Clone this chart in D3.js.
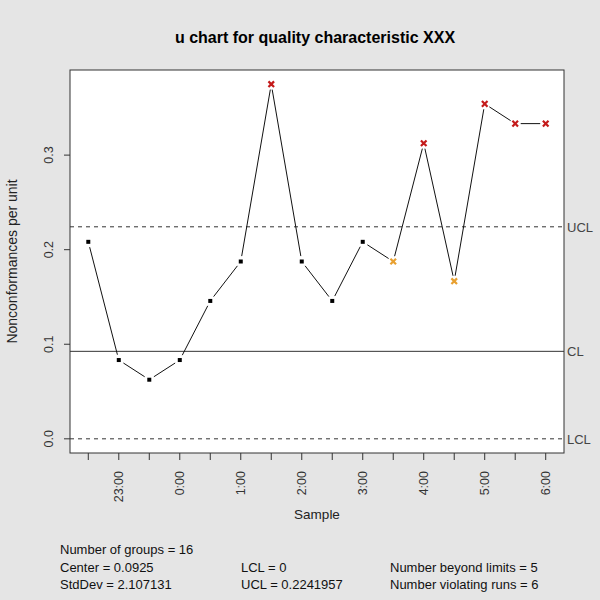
<!DOCTYPE html>
<html>
<head>
<meta charset="utf-8">
<script src="https://cdn.jsdelivr.net/npm/d3@7"></script>
<style>
  body { margin: 0; background: #e5e5e5; }
  svg { display: block; font-family: "Liberation Sans", Arial, sans-serif; }
</style>
</head>
<body>
<div id="chart"></div>
<script>
// sample times (one per group) and u values
const samples = ["22:30", "23:00", "23:30", "0:00", "0:30", "1:00", "1:30", "2:00",
                 "2:30", "3:00", "3:30", "4:00", "4:30", "5:00", "5:30", "6:00"];
const uValues = [0.2083, 0.0833, 0.0625, 0.0833, 0.1458, 0.1875, 0.375, 0.1875,
                 0.1458, 0.2083, 0.1875, 0.3125, 0.1667, 0.3542, 0.3333, 0.3333];
// 0 = in control, 1 = violating runs, 2 = beyond limits
const status = [0, 0, 0, 0, 0, 0, 2, 0, 0, 0, 1, 2, 1, 2, 2, 2];
const shownLabels = ["23:00", "0:00", "1:00", "2:00", "3:00", "4:00", "5:00", "6:00"];
const yTicks = [0.0, 0.1, 0.2, 0.3];

const center = 0.0925, lcl = 0, ucl = 0.2241957;
const statsLeft = ["Number of groups = 16", "Center = 0.0925", "StdDev = 2.107131"];
const statsMid = ["", "LCL = 0", "UCL = 0.2241957"];
const statsRight = ["", "Number beyond limits = 5", "Number violating runs = 6"];

const W = 600, H = 600;
const box = {left: 70, right: 564, top: 70, bottom: 453};

const svg = d3.select("#chart").append("svg")
    .attr("width", W).attr("height", H);

svg.append("rect").attr("width", W).attr("height", H).attr("fill", "#e5e5e5");
svg.append("rect")
    .attr("x", box.left).attr("y", box.top)
    .attr("width", box.right - box.left).attr("height", box.bottom - box.top)
    .attr("fill", "#ffffff");

const x = d3.scaleLinear().domain([0.4, 16.6]).range([box.left, box.right]);
const y = d3.scaleLinear().domain([-0.015, 0.39]).range([box.bottom, box.top]);

// title
svg.append("text")
    .attr("x", 315).attr("y", 43)
    .attr("text-anchor", "middle")
    .attr("font-size", 16).attr("font-weight", "bold")
    .attr("fill", "#000")
    .text("u chart for quality characteristic XXX");

// control lines
const limits = [
  {v: ucl, name: "UCL", dash: "4,4"},
  {v: center, name: "CL", dash: null},
  {v: lcl, name: "LCL", dash: "4,4"}
];
limits.forEach(l => {
  svg.append("line")
      .attr("x1", box.left).attr("x2", box.right)
      .attr("y1", y(l.v)).attr("y2", y(l.v))
      .attr("stroke", "#333").attr("stroke-width", 1)
      .attr("stroke-dasharray", l.dash);
  svg.append("text")
      .attr("x", box.right + 3).attr("y", y(l.v) + 5)
      .attr("font-size", 13).attr("fill", "#444")
      .text(l.name);
});

// connecting segments with gaps around points (type "b")
const gap = 5.5;
for (let i = 0; i < uValues.length - 1; i++) {
  const x1 = x(i + 1), y1 = y(uValues[i]);
  const x2 = x(i + 2), y2 = y(uValues[i + 1]);
  const len = Math.hypot(x2 - x1, y2 - y1);
  if (len <= 2 * gap) continue;
  const dx = (x2 - x1) / len, dy = (y2 - y1) / len;
  svg.append("line")
      .attr("x1", x1 + dx * gap).attr("y1", y1 + dy * gap)
      .attr("x2", x2 - dx * gap).attr("y2", y2 - dy * gap)
      .attr("stroke", "#111").attr("stroke-width", 1);
}

// points
const colors = ["#000000", "#e8a030", "#c41a1a"];
uValues.forEach((v, i) => {
  const cx = x(i + 1), cy = y(v);
  if (status[i] === 0) {
    svg.append("rect")
        .attr("x", cx - 2).attr("y", cy - 2)
        .attr("width", 4).attr("height", 4)
        .attr("fill", "#000");
  } else {
    const s = 2.8;
    svg.append("path")
        .attr("d", `M${cx - s},${cy - s}L${cx + s},${cy + s}M${cx - s},${cy + s}L${cx + s},${cy - s}`)
        .attr("stroke", colors[status[i]]).attr("stroke-width", 2.2)
        .attr("fill", "none");
  }
});

// box
svg.append("rect")
    .attr("x", box.left).attr("y", box.top)
    .attr("width", box.right - box.left).attr("height", box.bottom - box.top)
    .attr("fill", "none").attr("stroke", "#333").attr("stroke-width", 1);

// y axis
const yAxis = svg.append("g");
yTicks.forEach(t => {
  yAxis.append("line")
      .attr("x1", box.left - 6).attr("x2", box.left)
      .attr("y1", y(t)).attr("y2", y(t))
      .attr("stroke", "#333");
  yAxis.append("text")
      .attr("transform", `translate(${box.left - 17},${y(t)}) rotate(-90)`)
      .attr("text-anchor", "middle")
      .attr("font-size", 12.5).attr("fill", "#333")
      .text(t.toFixed(1));
});
svg.append("text")
    .attr("transform", `translate(17,${(box.top + box.bottom) / 2}) rotate(-90)`)
    .attr("text-anchor", "middle")
    .attr("font-size", 14).attr("fill", "#222")
    .text("Nonconformances per unit");

// x axis
const xAxis = svg.append("g");
samples.forEach((s, i) => {
  xAxis.append("line")
      .attr("x1", x(i + 1)).attr("x2", x(i + 1))
      .attr("y1", box.bottom).attr("y2", box.bottom + 7)
      .attr("stroke", "#333");
  if (shownLabels.includes(s)) {
    xAxis.append("text")
        .attr("transform", `translate(${x(i + 1) + 4.5},${box.bottom + 18}) rotate(-90)`)
        .attr("text-anchor", "end")
        .attr("font-size", 12.5).attr("fill", "#333")
        .text(s);
  }
});
svg.append("text")
    .attr("x", (box.left + box.right) / 2).attr("y", 519)
    .attr("text-anchor", "middle")
    .attr("font-size", 13.5).attr("fill", "#222")
    .text("Sample");

// summary statistics
const cols = [[60, statsLeft], [241, statsMid], [390, statsRight]];
cols.forEach(([cx, lines]) => {
  lines.forEach((t, j) => {
    svg.append("text")
        .attr("x", cx).attr("y", 554 + j * 17.5)
        .attr("font-size", 13).attr("fill", "#111")
        .text(t);
  });
});
</script>
</body>
</html>
